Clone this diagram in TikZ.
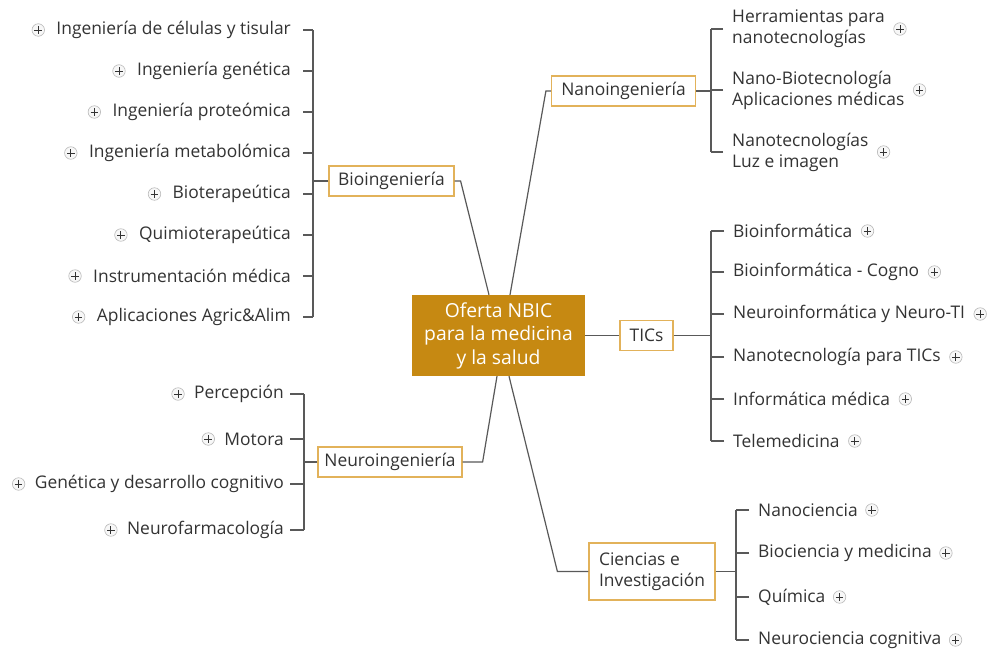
\documentclass[tikz,border=0pt]{standalone}
\usepackage{fontspec}
\setmainfont{Open Sans}
\usetikzlibrary{calc}
\definecolor{gold}{HTML}{C68912}
\definecolor{goldline}{HTML}{E2B25A}
\definecolor{ink}{HTML}{333333}
\definecolor{wirec}{HTML}{595959}
\newcommand{\itemfont}{\fontsize{17.4}{21}\selectfont}
\tikzset{
  box/.style={draw=goldline, line width=1.2pt, fill=white, text=ink,
    font=\itemfont, inner sep=0pt, minimum height=30pt},
  core/.style={fill=gold, text=white, align=center, inner sep=0pt,
    font=\fontsize{19.3}{23.5}\selectfont, minimum width=173pt, minimum height=81pt},
  litem/.style={anchor=east, inner ysep=0pt, text=ink, font=\itemfont},
  ritem/.style={anchor=west, inner xsep=9pt, inner ysep=0pt, text=ink,
    font=\itemfont, align=left},
  wire/.style={draw=wirec, line width=1.2pt},
  plusicon/.style={circle, draw=gray!55, fill=gray!6, line width=0.6pt,
    minimum size=12.5pt, inner sep=0pt,
    path picture={\draw[ink, line width=0.9pt]
      ([xshift=-3.8pt]path picture bounding box.center) -- ([xshift=3.8pt]path picture bounding box.center)
      ([yshift=-3.8pt]path picture bounding box.center) -- ([yshift=3.8pt]path picture bounding box.center);}},
}
\begin{document}
\begin{tikzpicture}[x=1pt, y=-1pt]
\fill[white] (0,0) rectangle (993,653);
\useasboundingbox (0,0) rectangle (993,653);

% centre and first-level boxes
\node[core] (core) at (498.5,335.5) {Oferta NBIC\\para la medicina\\y la salud};
\node[box, minimum width=125pt] (bio) at (391.5,181) {Bioingeniería};
\node[box, minimum width=144pt] (nano) at (623.5,91) {Nanoingeniería};
\node[box, minimum width=53pt] (tic) at (646.5,335.5) {TICs};
\node[box, minimum width=144pt] (neuro) at (390,462) {Neuroingeniería};
\node[box, minimum width=126pt, minimum height=57pt, align=left] (cie) at (652,571.5) {Ciencias e\\Investigación};

\draw[wire] (bio.east) -- ++(6,0) -- ($(core.north)+(-9.5,0)$);
\draw[wire] (nano.west) -- ++(-5,0) -- ($(core.north)+(11.5,0)$);
\draw[wire] (core.east) -- (tic.west);
\draw[wire] (neuro.east) -- ++(20,0) -- ($(core.south)+(-1.5,0)$);
\draw[wire] (cie.west) -- ++(-31,0) -- ($(core.south)+(10.5,0)$);

% Bioingeniería branch
\foreach \n/\y/\t in {1/30/Ingeniería de células y tisular, 2/71/Ingeniería genética,
    3/112/Ingeniería proteómica, 4/153/Ingeniería metabolómica, 5/194/Bioterapeútica,
    6/235/Quimioterapeútica, 7/276/Instrumentación médica, 8/317/Aplicaciones Agric\&Alim}{
  \node[litem, inner xsep=12pt] (b\n) at (303,\y) {\t};
  \node[plusicon] (pb\n) at ([xshift=-6pt]b\n.west) {};
  \draw[wire] (b\n.east) -- ++(10,0);
}
\coordinate (bJ) at ([xshift=10pt]b1.east);
\draw[wire] (bJ) -- (bJ |- b8.east);
\draw[wire] (bio.west) -- (bio.west -| bJ);

% Neuroingeniería branch
\foreach \n/\y/\t in {1/394/Percepción, 2/439/Motora,
    3/484/Genética y desarrollo cognitivo, 4/530/Neurofarmacología}{
  \node[litem, inner xsep=6pt] (m\n) at (290,\y) {\t};
  \node[plusicon] (pm\n) at ([xshift=-10pt]m\n.west) {};
  \draw[wire] (m\n.east) -- ++(14,0);
}
\coordinate (mJ) at ([xshift=14pt]m1.east);
\draw[wire] (mJ) -- (mJ |- m4.east);
\draw[wire] (neuro.west) -- (neuro.west -| mJ);

% Nanoingeniería branch
\node[ritem] (n1) at (723,29) {Herramientas para\\nanotecnologías};
\node[ritem] (n2) at (723,90) {Nano-Biotecnología\\Aplicaciones médicas};
\node[ritem] (n3) at (723,152) {Nanotecnologías\\Luz e imagen};
\foreach \n in {1,2,3}{
  \node[plusicon] (pn\n) at ([xshift=6pt]n\n.east) {};
  \draw[wire] (n\n.west) -- ++(-12,0);
}
\coordinate (nJ) at ([xshift=-12pt]n1.west);
\draw[wire] (nJ) -- (nJ |- n3.west);
\draw[wire] (nano.east) -- (nano.east -| nJ);

% TICs branch
\foreach \n/\y/\t in {1/231/Bioinformática, 2/272/Bioinformática - Cogno,
    3/314/Neuroinformática y Neuro-TI, 4/357/Nanotecnología para TICs,
    5/399/Informática médica, 6/441/Telemedicina}{
  \node[ritem] (t\n) at (724,\y) {\t};
  \node[plusicon] (pt\n) at ([xshift=6pt]t\n.east) {};
  \draw[wire] (t\n.west) -- ++(-13,0);
}
\coordinate (tJ) at ([xshift=-13pt]t1.west);
\draw[wire] (tJ) -- (tJ |- t6.west);
\draw[wire] (tic.east) -- (tic.east -| tJ);

% Ciencias e Investigación branch
\foreach \n/\y/\t in {1/510/Nanociencia, 2/553/Biociencia y medicina,
    3/597/Química, 4/640/Neurociencia cognitiva}{
  \node[ritem] (c\n) at (749,\y) {\t};
  \node[plusicon] (pc\n) at ([xshift=5pt]c\n.east) {};
  \draw[wire] (c\n.west) -- ++(-13,0);
}
\coordinate (cJ) at ([xshift=-13pt]c1.west);
\draw[wire] (cJ) -- (cJ |- c4.west);
\draw[wire] (cie.east) -- (cie.east -| cJ);
\end{tikzpicture}
\end{document}
